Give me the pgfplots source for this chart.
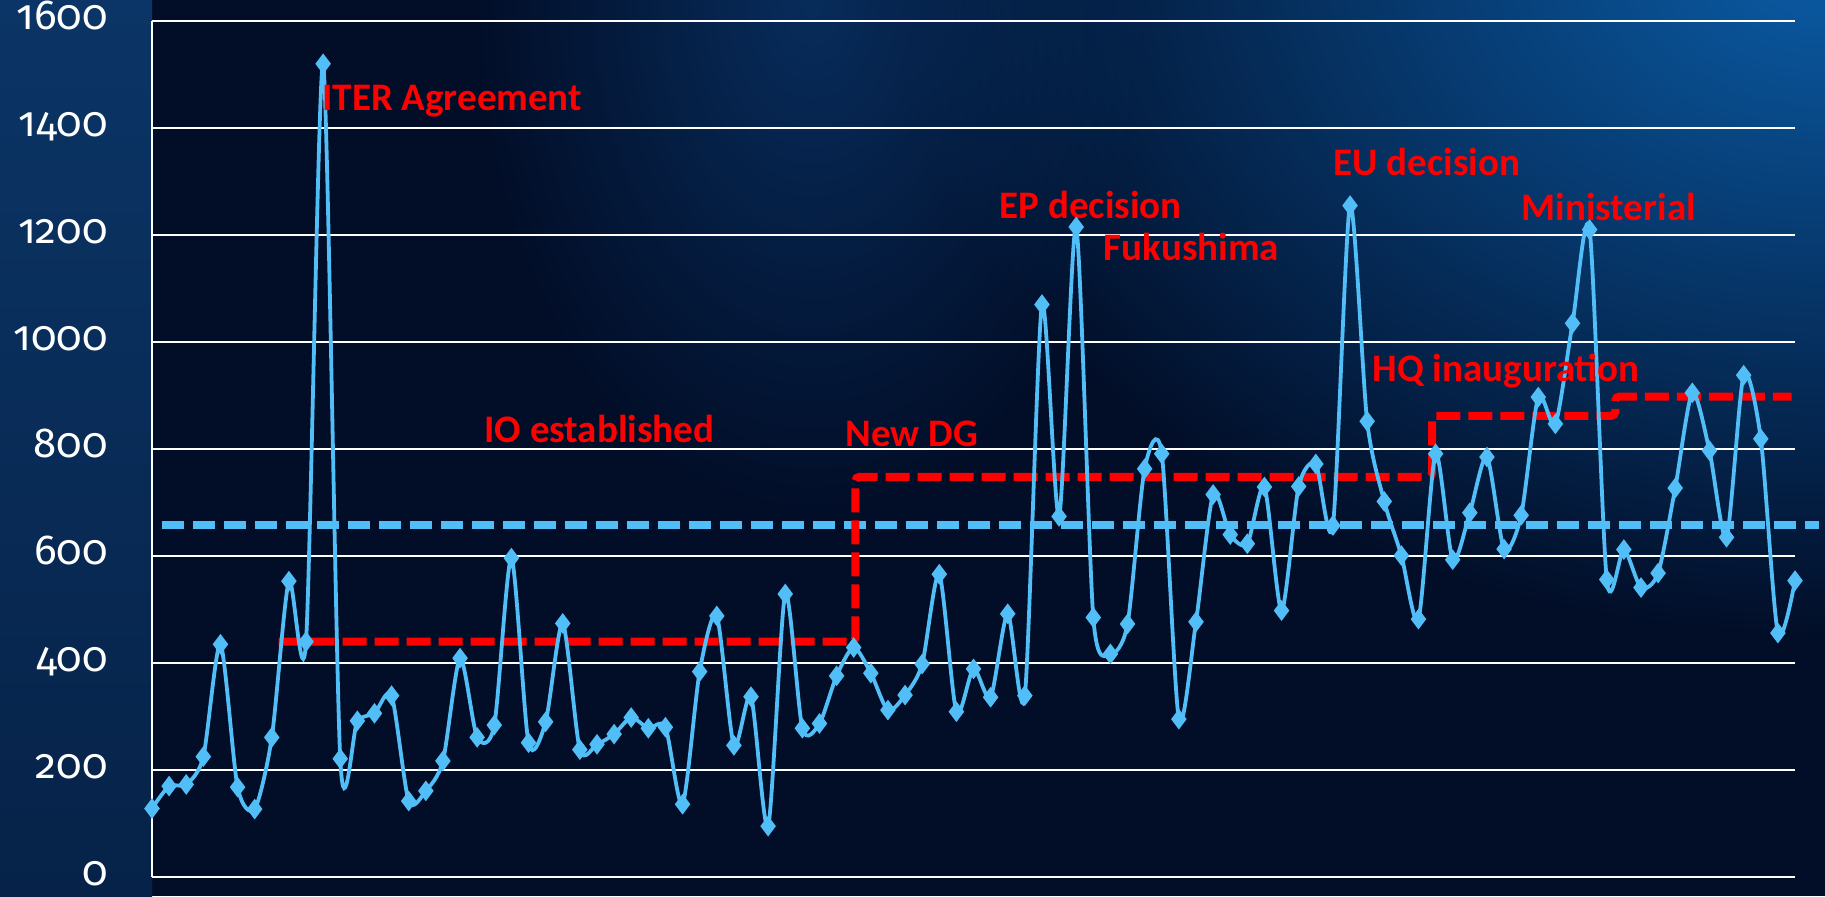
\documentclass[border=0pt]{standalone}
\usepackage{pgfplots}
\pgfplotsset{compat=1.18}
\usepackage{fontspec}
\setmainfont{Carlito}
\newfontfamily\tickfont[Numbers=OldStyle]{Fira Sans}
\usetikzlibrary{fadings}
\definecolor{bgdark}{HTML}{020E28}
\definecolor{striptop}{HTML}{0B3566}
\definecolor{stripbot}{HTML}{062248}
\definecolor{glowblue}{HTML}{0B5CA6}
\definecolor{midglow}{HTML}{0A3A72}
\definecolor{lineblue}{HTML}{52BEF7}
\definecolor{stepred}{HTML}{FF0000}
\tikzfading[name=glowfade, inner color=transparent!0, outer color=transparent!100]
\begin{document}
\begin{tikzpicture}
% background
\fill[bgdark] (-76pt,-9.5pt) rectangle (836.5pt,438.5pt);
\begin{scope}
\clip (0pt,-9.5pt) rectangle (836.5pt,438.5pt);
\fill[glowblue, path fading=glowfade, fit fading=true] (836.5pt,460pt) ellipse (470pt and 340pt);
\fill[midglow, opacity=0.7, path fading=glowfade, fit fading=true] (330pt,440pt) ellipse (170pt and 260pt);
\end{scope}
\shade[top color=striptop, bottom color=stripbot] (-76pt,-9.5pt) rectangle (0pt,438.5pt);
\begin{axis}[
  scale only axis, width=821.5pt, height=428pt,
  xmin=0, xmax=96, ymin=0, ymax=1600,
  axis x line=none, axis y line*=left,
  axis line style={white, line width=0.7pt},
  ytick={0,200,...,1600},
  major tick length=0pt,
  ymajorgrids, grid style={white, line width=0.7pt},
  /pgf/number format/assume math mode=true,
  /pgf/number format/1000 sep={},
  yticklabel style={font=\tickfont\fontsize{21}{21}\selectfont, text=white, anchor=base east, inner sep=0pt, xshift=-22pt, yshift=-4pt},
  clip=false,
]
\addplot[lineblue, line width=4.3pt, dash pattern=on 11pt off 4.5pt] coordinates {(0.6,658) (97.4,658)};
\addplot[stepred, line width=4pt, dash pattern=on 12pt off 4pt, rounded corners=2pt] coordinates {
(7.4,440) (41.1,440) (41.1,748) (74.8,748) (74.8,862) (85.5,862) (85.5,898) (95.8,898)};
\addplot[lineblue, line width=1.9pt, smooth, tension=0.45, mark=diamond*, mark size=3.6pt, mark options={fill=lineblue, solid}] coordinates {
(0,128) (1,170) (2,173) (3,225) (4,435) (5,168) (6,127) (7,261) (8,553) (9,440)
(10,1520) (11,221) (12,292) (13,306) (14,339) (15,142) (16,161) (17,217) (18,409) (19,261)
(20,284) (21,596) (22,251) (23,290) (24,474) (25,238) (26,248) (27,267) (28,298) (29,278)
(30,280) (31,136) (32,384) (33,488) (34,246) (35,337) (36,95) (37,529) (38,278) (39,287)
(40,376) (41,429) (42,381) (43,312) (44,340) (45,398) (46,566) (47,309) (48,389) (49,336)
(50,492) (51,339) (52,1070) (53,674) (54,1215) (55,485) (56,417) (57,473) (58,763) (59,791)
(60,295) (61,477) (62,715) (63,640) (64,623) (65,729) (66,498) (67,730) (68,772) (69,657)
(70,1255) (71,852) (72,702) (73,601) (74,482) (75,791) (76,593) (77,681) (78,785) (79,613)
(80,676) (81,897) (82,847) (83,1035) (84,1210) (85,556) (86,612) (87,541) (88,568) (89,727)
(90,905) (91,797) (92,635) (93,938) (94,819) (95,456) (96,554)};
\begin{scope}[every node/.style={anchor=base west, inner sep=0pt, text=stepred, font=\bfseries\fontsize{19.5}{20}\selectfont}]
\node at (axis cs:9.93,1432) {ITER Agreement};
\node at (axis cs:19.4,813) {IO established};
\node at (axis cs:40.5,804) {New DG};
\node at (axis cs:49.5,1230) {EP decision};
\node at (axis cs:55.6,1152) {Fukushima};
\node at (axis cs:69.0,1311) {EU decision};
\node at (axis cs:80.0,1227) {Ministerial};
\node at (axis cs:71.3,926) {HQ inauguration};
\end{scope}
\end{axis}
\end{tikzpicture}
\end{document}
